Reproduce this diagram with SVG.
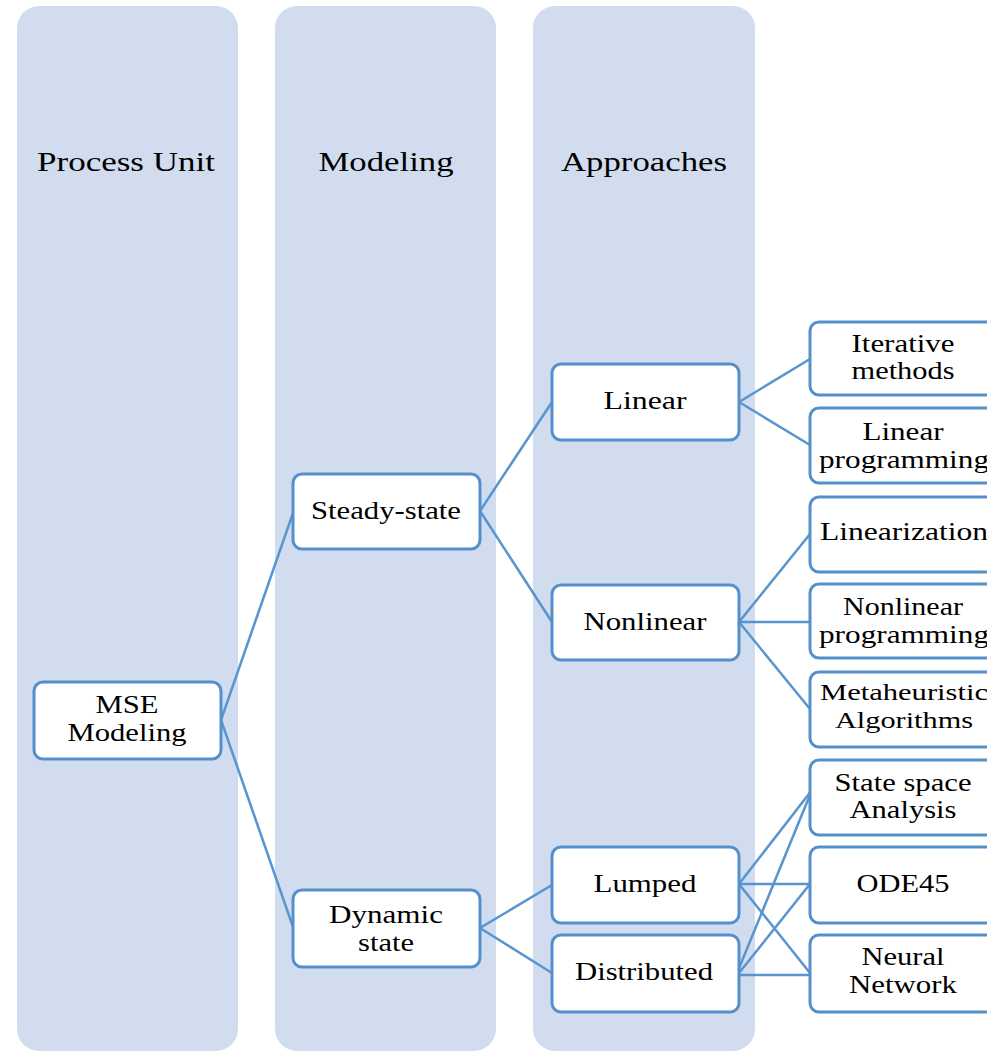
<svg xmlns="http://www.w3.org/2000/svg" width="987" height="1052" viewBox="0 0 987 1052">
<style>
.lane{fill:#D1DDEE;}
.box{fill:#FFFFFF;stroke:#5490CC;stroke-width:3;}
.hdr{font-family:"Liberation Serif","Times New Roman",serif;font-size:28px;fill:#000;text-anchor:middle;}
.t{font-family:"Liberation Serif","Times New Roman",serif;font-size:26px;fill:#000;text-anchor:middle;}
.s{font-size:24px;}
.conn line{stroke:#5895D0;stroke-width:2.5;fill:none;}
</style>
<rect width="987" height="1052" fill="#FFFFFF"/>
<g id="lanes">
<g id="lane-process-unit"><rect class="lane" x="17" y="6" width="221" height="1045" rx="22"/><text class="hdr" x="126" y="171" textLength="178" lengthAdjust="spacingAndGlyphs">Process Unit</text></g>
<g id="lane-modeling"><rect class="lane" x="275" y="6" width="221" height="1045" rx="22"/><text class="hdr" x="386" y="171" textLength="135" lengthAdjust="spacingAndGlyphs">Modeling</text></g>
<g id="lane-approaches"><rect class="lane" x="533" y="6" width="222" height="1045" rx="22"/><text class="hdr" x="644" y="171" textLength="166" lengthAdjust="spacingAndGlyphs">Approaches</text></g>
</g>
<g id="connectors" class="conn">
<line x1="221" y1="720" x2="293" y2="513"/>
<line x1="221" y1="720" x2="293" y2="927"/>
<line x1="480" y1="511" x2="552" y2="402"/>
<line x1="480" y1="511" x2="552" y2="622"/>
<line x1="480" y1="928" x2="552" y2="885"/>
<line x1="480" y1="928" x2="552" y2="973"/>
<line x1="739" y1="402" x2="810" y2="359"/>
<line x1="739" y1="402" x2="810" y2="445"/>
<line x1="739" y1="622" x2="810" y2="534"/>
<line x1="739" y1="622" x2="810" y2="622"/>
<line x1="739" y1="622" x2="810" y2="709"/>
<line x1="739" y1="884" x2="812" y2="790"/>
<line x1="739" y1="884" x2="810" y2="884"/>
<line x1="739" y1="884" x2="810" y2="973"/>
<line x1="735" y1="978" x2="812" y2="790"/>
<line x1="735" y1="978" x2="810" y2="884"/>
<line x1="738" y1="975" x2="810" y2="975"/>
</g>
<g id="n-mse"><rect class="box" x="34" y="682" width="187" height="77" rx="9"/><text class="t" x="127" y="713" textLength="63" lengthAdjust="spacingAndGlyphs">MSE</text><text class="t" x="127" y="741" textLength="119" lengthAdjust="spacingAndGlyphs">Modeling</text></g>
<g id="n-steady"><rect class="box" x="293" y="474" width="187" height="75" rx="9"/><text class="t" x="386" y="519" textLength="150" lengthAdjust="spacingAndGlyphs">Steady-state</text></g>
<g id="n-dynamic"><rect class="box" x="293" y="890" width="187" height="77" rx="9"/><text class="t" x="386" y="923" textLength="114" lengthAdjust="spacingAndGlyphs">Dynamic</text><text class="t" x="386" y="951" textLength="56" lengthAdjust="spacingAndGlyphs">state</text></g>
<g id="n-linear"><rect class="box" x="552" y="364" width="187" height="76" rx="9"/><text class="t" x="645" y="409" textLength="83" lengthAdjust="spacingAndGlyphs">Linear</text></g>
<g id="n-nonlinear"><rect class="box" x="552" y="585" width="187" height="75" rx="9"/><text class="t" x="645" y="630" textLength="123" lengthAdjust="spacingAndGlyphs">Nonlinear</text></g>
<g id="n-lumped"><rect class="box" x="552" y="847" width="187" height="76" rx="9"/><text class="t" x="645" y="892" textLength="103" lengthAdjust="spacingAndGlyphs">Lumped</text></g>
<g id="n-distributed"><rect class="box" x="552" y="935" width="187" height="77" rx="9"/><text class="t" x="644" y="980" textLength="138" lengthAdjust="spacingAndGlyphs">Distributed</text></g>
<g id="n-iterative"><rect class="box" x="810" y="322" width="187" height="73" rx="9"/><text class="t" x="903" y="352" textLength="103" lengthAdjust="spacingAndGlyphs">Iterative</text><text class="t" x="903" y="379" textLength="103" lengthAdjust="spacingAndGlyphs">methods</text></g>
<g id="n-lp"><rect class="box" x="810" y="408" width="187" height="75" rx="9"/><text class="t" x="903" y="440" textLength="81" lengthAdjust="spacingAndGlyphs">Linear</text><text class="t" x="904" y="468" textLength="170" lengthAdjust="spacingAndGlyphs">programming</text></g>
<g id="n-linearization"><rect class="box" x="810" y="497" width="187" height="75" rx="9"/><text class="t" x="904" y="540" textLength="168" lengthAdjust="spacingAndGlyphs">Linearization</text></g>
<g id="n-nlp"><rect class="box" x="810" y="584" width="187" height="74" rx="9"/><text class="t" x="903" y="615" textLength="120" lengthAdjust="spacingAndGlyphs">Nonlinear</text><text class="t" x="904" y="643" textLength="170" lengthAdjust="spacingAndGlyphs">programming</text></g>
<g id="n-meta"><rect class="box" x="810" y="672" width="187" height="75" rx="9"/><text class="t s" x="904" y="700" textLength="168" lengthAdjust="spacingAndGlyphs">Metaheuristic</text><text class="t s" x="904" y="728" textLength="138" lengthAdjust="spacingAndGlyphs">Algorithms</text></g>
<g id="n-statespace"><rect class="box" x="810" y="760" width="187" height="75" rx="9"/><text class="t" x="903" y="791" textLength="137" lengthAdjust="spacingAndGlyphs">State space</text><text class="t" x="903" y="818" textLength="107" lengthAdjust="spacingAndGlyphs">Analysis</text></g>
<g id="n-ode45"><rect class="box" x="810" y="847" width="187" height="76" rx="9"/><text class="t" x="903" y="892" textLength="93" lengthAdjust="spacingAndGlyphs">ODE45</text></g>
<g id="n-neural"><rect class="box" x="810" y="935" width="187" height="77" rx="9"/><text class="t" x="903" y="965" textLength="83" lengthAdjust="spacingAndGlyphs">Neural</text><text class="t" x="903" y="993" textLength="108" lengthAdjust="spacingAndGlyphs">Network</text></g>
</svg>
